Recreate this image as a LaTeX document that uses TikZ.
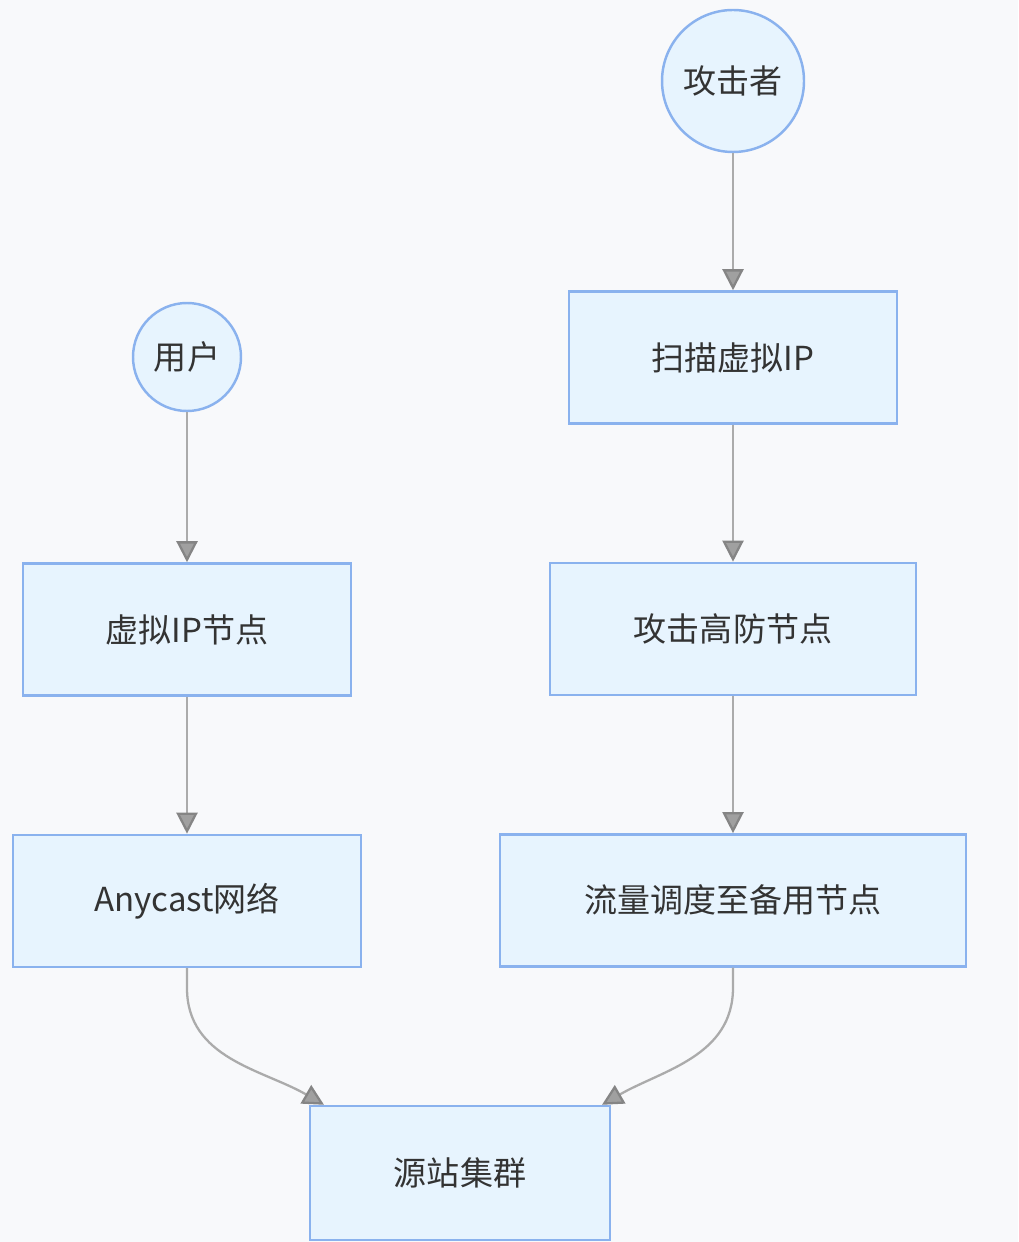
\documentclass[tikz,border=0pt]{standalone}
\usepackage{fontspec}
\setmainfont{Noto Sans CJK SC}
\usetikzlibrary{positioning,arrows.meta}

\definecolor{bgcol}{HTML}{F8F9FB}
\definecolor{boxfill}{HTML}{E7F4FE}
\definecolor{boxline}{HTML}{8AB2EE}
\definecolor{txtcol}{HTML}{333333}
\definecolor{edgecol}{HTML}{ABABAB}
\definecolor{tipfill}{HTML}{A0A0A0}
\definecolor{tipline}{HTML}{858585}

\tikzset{
  box/.style={draw=boxline, fill=boxfill, line width=0.7pt, rectangle,
    minimum height=1.32cm, inner sep=0pt, text=txtcol,
    font=\fontsize{9.4}{11}\selectfont},
  actor/.style={box, circle, minimum height=0pt},
  flow/.style={draw=edgecol, line width=0.65pt,
    -{Triangle[length=0.21cm, width=0.21cm, color=tipline, fill=tipfill]}},
}

\begin{document}
\begin{tikzpicture}[node distance=1.37cm]
  \fill[bgcol] (0,0) rectangle (10.18,-12.42);
  \useasboundingbox (0,0) rectangle (10.18,-12.42);

  % attacker side
  \node[actor, minimum size=1.42cm] (attacker) at (7.33,-0.81) {攻击者};
  \node[box, minimum width=3.28cm, below=of attacker] (scan) {扫描虚拟IP};
  \node[box, minimum width=3.66cm, below=of scan] (hitnode) {攻击高防节点};
  \node[box, minimum width=4.66cm, below=of hitnode] (backup) {流量调度至备用节点};

  % user side
  \node[actor, minimum size=1.08cm] (user) at (1.87,-3.57) {用户};
  \node[box, minimum width=3.28cm, below=1.50cm of user] (vipnode) {虚拟IP节点};
  \node[box, minimum width=3.48cm, below=of vipnode] (anycast) {Anycast网络};

  \node[box, minimum width=3.0cm, minimum height=1.34cm] (origin) at (4.6,-11.73) {源站集群};

  \draw[flow] (attacker) -- (scan);
  \draw[flow] (scan) -- (hitnode);
  \draw[flow] (hitnode) -- (backup);
  \draw[flow] (user) -- (vipnode);
  \draw[flow] (vipnode) -- (anycast);
  \draw[flow] (anycast.south) -- ++(0,-0.2) to[out=-90, in=150] ([xshift=-1.36cm]origin.north);
  \draw[flow] (backup.south) -- ++(0,-0.2) to[out=-90, in=30] ([xshift=1.42cm]origin.north);
\end{tikzpicture}
\end{document}
